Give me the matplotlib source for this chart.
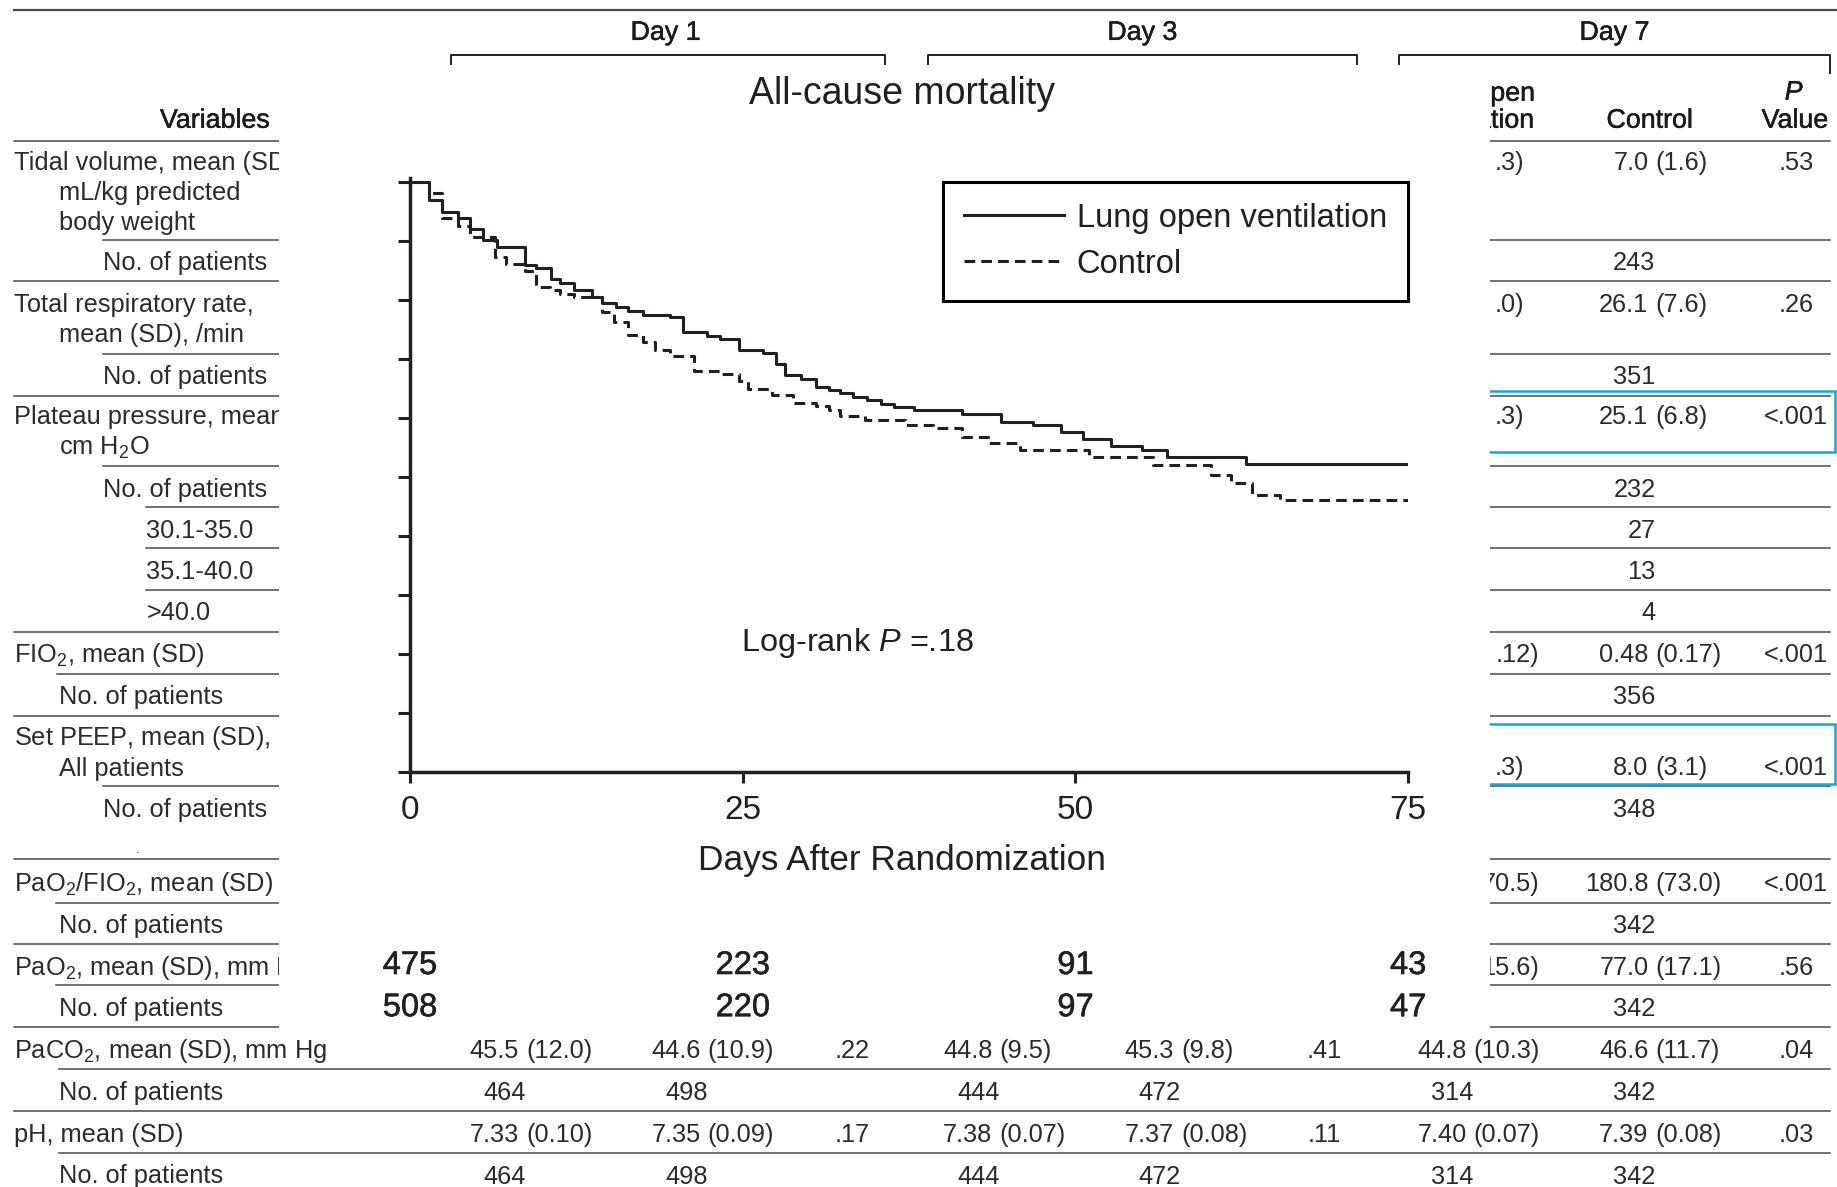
import matplotlib
matplotlib.use("Agg")
import matplotlib.pyplot as plt
import matplotlib.patheffects as pe
from matplotlib.patches import Rectangle

plt.rcParams['font.family'] = ['Liberation Sans', 'DejaVu Sans']
plt.rcParams['mathtext.fontset'] = 'custom'
plt.rcParams['mathtext.rm'] = 'Liberation Sans'
plt.rcParams['mathtext.it'] = 'Liberation Sans:italic'
plt.rcParams['mathtext.bf'] = 'Liberation Sans:bold'

# ---------------- data ----------------
day_headers = ["Day 1", "Day 3", "Day 7"]

labels = ["Tidal volume, mean (SD),", "mL/kg predicted", "body weight", "No. of patients",
          "Total respiratory rate,", "mean (SD), /min", "No. of patients",
          "Plateau pressure, mean (SD),", "cm H$_2$O", "No. of patients",
          "30.1-35.0", "35.1-40.0", ">40.0",
          "FIO$_2$, mean (SD)", "No. of patients",
          "Set PEEP, mean (SD), cm H$_2$O", "All patients", "No. of patients",
          "PaO$_2$/FIO$_2$, mean (SD)", "No. of patients",
          "PaO$_2$, mean (SD), mm Hg", "No. of patients",
          "PaCO$_2$, mean (SD), mm Hg", "No. of patients",
          "pH, mean (SD)", "No. of patients"]

# day 7 control column (rows above PaCO2)
ctrl7 = ["7.0 (1.6)", "243", "26.1 (7.6)", "351", "25.1 (6.8)", "232", "27", "13", "4",
         "0.48 (0.17)", "356", "8.0 (3.1)", "348", "180.8 (73.0)", "342", "77.0 (17.1)", "342"]
p7 = [".53", ".26", "<.001", "<.001", "<.001", "<.001", ".56"]
lov7_tail = [".3)", ".0)", ".3)", ".12)", ".3)", "70.5)", "15.6)"]

paco2_mean = ["45.5 (12.0)", "44.6 (10.9)", "44.8 (9.5)", "45.3 (9.8)", "44.8 (10.3)", "46.6 (11.7)"]
paco2_p = [".22", ".41", ".04"]
paco2_n = ["464", "498", "444", "472", "314", "342"]
ph_mean = ["7.33 (0.10)", "7.35 (0.09)", "7.38 (0.07)", "7.37 (0.08)", "7.40 (0.07)", "7.39 (0.08)"]
ph_p = [".17", ".11", ".03"]
ph_n = ["464", "498", "444", "472", "314", "342"]

# Kaplan-Meier curves (day of step, survival after step)
lov_t = [0, 1.4, 2.4, 3.6, 4.5, 5.5, 6.5, 8.6, 9.5, 10.6, 11.3, 12.3, 13.7, 14.4, 15.5, 16.4,
         17.5, 19.5, 20.5, 22.3, 23.3, 24.7, 26.5, 27.5, 28.2, 29.4, 30.5, 31.5, 32.3, 33.3,
         34.3, 35.4, 36.4, 37.9, 41.5, 44.4, 46.8, 48.9, 50.6, 52.7, 55.0, 56.9, 62.8, 75]
lov_s = [1.0, 0.969, 0.949, 0.938, 0.920, 0.901, 0.890, 0.859, 0.854, 0.835, 0.829, 0.817,
         0.804, 0.794, 0.788, 0.781, 0.775, 0.771, 0.745, 0.739, 0.733, 0.715, 0.710, 0.691,
         0.672, 0.666, 0.653, 0.647, 0.642, 0.636, 0.630, 0.623, 0.618, 0.613, 0.606, 0.593,
         0.588, 0.576, 0.565, 0.552, 0.546, 0.534, 0.522, 0.522]
ctl_t = [0, 1.4, 2.4, 3.6, 4.5, 6.4, 7.2, 8.6, 9.5, 10.5, 11.3, 12.3, 14.4, 15.3, 16.4, 17.5,
         18.4, 19.5, 21.3, 23.3, 24.7, 25.4, 27.2, 28.8, 30.5, 31.5, 32.3, 34.2, 37.2, 39.3,
         41.5, 43.4, 45.8, 51.0, 55.8, 60.2, 61.7, 63.3, 65.4, 75]
ctl_s = [1.0, 0.980, 0.938, 0.925, 0.907, 0.872, 0.861, 0.849, 0.822, 0.816, 0.810, 0.804,
         0.779, 0.762, 0.740, 0.729, 0.715, 0.704, 0.680, 0.674, 0.663, 0.649, 0.638, 0.626,
         0.620, 0.614, 0.603, 0.596, 0.588, 0.582, 0.568, 0.557, 0.545, 0.534, 0.520, 0.503,
         0.490, 0.470, 0.461, 0.461]
risk_days = [0, 25, 50, 75]
lov_risk = ["475", "223", "91", "43"]
ctl_risk = ["508", "220", "97", "47"]

# ---------------- layout (reference pixels, 1568 x 1013 grid) ----------------
label_y = [137, 163, 188, 222, 258, 284, 320, 354, 380, 416, 451, 486, 521, 557, 593,
           628, 654, 689, 752, 788, 824, 859, 895, 931, 967, 1002]
label_x = [12, 50, 50, 88, 12, 50, 88, 12, 50, 88, 125, 125, 125, 12, 50,
           12, 50, 88, 12, 50, 12, 50, 12, 50, 12, 50]
rules = [(120, 12), (205, 88), (240, 12), (302, 88), (338, 12), (398, 88), (433, 125),
         (467.5, 125), (503.6, 125), (539.7, 12), (575, 49), (611, 12), (671, 88),
         (733, 12), (770.5, 48), (806, 12), (841, 48), (876.6, 12), (912.5, 50),
         (948, 12), (984, 50)]
ctrl7_y = [137, 222, 258, 320, 354, 416, 451, 486, 521, 557, 593, 653, 689, 752, 788, 824, 859]
p7_y = [137, 258, 354, 557, 653, 752, 824]
tail_x = [1301, 1301, 1301, 1314, 1301, 1314, 1314]
col_x = [449, 604, 853, 1008, 1258, 1413]
p_x = [727, 1130, 1533]

TXT = '#2b2b2b'
HEAD = '#1a1a1a'
LINE = '#4a4a4a'
FS = 18.3
HFS = 19.3
heavy = [pe.withStroke(linewidth=0.35, foreground=HEAD)]

fig = plt.figure(figsize=(18.37, 11.87), dpi=100)
ax = fig.add_axes([0, 0, 1, 1])
ax.set_xlim(0, 1568)
ax.set_ylim(1013, 0)
ax.axis('off')


def put(x, y, s, ha='left', fs=FS, color=TXT, style='normal', effects=None):
    ax.text(x, y + 8, s, ha=ha, va='baseline', fontsize=fs, fontstyle=style,
            color=color, zorder=3, path_effects=effects)


def cell(x, y, s):
    if ' (' in s:
        a, b = s.split(' (')
        put(x - 6, y, a, ha='right')
        put(x, y, '(' + b)
    else:
        put(x, y, s, ha='right')


# top rule, day headers and brackets
ax.plot([12, 1568], [8.5, 8.5], color=LINE, lw=1.6, zorder=2)
for name, cx, (x0, x1) in zip(day_headers, [568, 975, 1378],
                              [(385, 755), (792, 1158), (1194, 1562)]):
    put(cx, 26, name, ha='center', fs=HFS, color=HEAD, effects=heavy)
    ax.plot([x0, x0, x1, x1], [55, 47, 47, 55 if x1 < 1500 else 62],
            color='#222222', lw=1.4, zorder=2)

# column headers
put(230, 101, "Variables", ha='right', fs=HFS, color=HEAD, effects=heavy)
put(1310, 78, "Lung Open", ha='right', fs=HFS, color=HEAD, effects=heavy)
put(1309, 101, "Ventilation", ha='right', fs=HFS, color=HEAD, effects=heavy)
put(1408, 101, "Control", ha='center', fs=HFS, color=HEAD, effects=heavy)
put(1531, 77, "P", ha='center', fs=HFS, color=HEAD, style='italic', effects=heavy)
put(1532, 101, "Value", ha='center', fs=HFS, color=HEAD, effects=heavy)

# row rules
for y, x0 in rules:
    ax.plot([x0, 1562], [y, y], color=LINE, lw=1.1, zorder=2)

# labels
for s, x, y in zip(labels, label_x, label_y):
    put(x, y, s)
ax.text(117, 728, ".", fontsize=9, color=TXT, ha='center', va='baseline', zorder=3)

# day 7 values
for s, y in zip(ctrl7, ctrl7_y):
    cell(col_x[5], y, s)
for s, y in zip(p7, p7_y):
    put(p_x[2], y, s, ha='center')
for s, x, y in zip(lov7_tail, tail_x, p7_y):
    put(x, y, s, ha='right')

# fully visible bottom rows
for means, ps, ns, y in [(paco2_mean, paco2_p, paco2_n, 895), (ph_mean, ph_p, ph_n, 967)]:
    for s, x in zip(means, col_x):
        cell(x, y, s)
    for s, x in zip(ps, p_x):
        put(x, y, s, ha='center')
    for s, x in zip(ns, col_x):
        cell(x, y + 35.5, s)

# highlighted rows
for y0, y1 in [(334, 385.5), (618, 669.4)]:
    ax.add_patch(Rectangle((1200, y0), 1566 - 1200, y1 - y0, fill=False,
                           edgecolor='#00aeef', lw=1.8, zorder=4))

# white panel carrying the survival plot
ax.add_patch(Rectangle((238, 60), 1272 - 238, 880 - 60, facecolor='white',
                       edgecolor='none', zorder=10))

# ---------------- Kaplan-Meier plot ----------------
KM = '#231f20'
km = fig.add_axes([350 / 1568, 1 - 659 / 1013, 852 / 1568, 507 / 1013])
km.set_facecolor('none')
km.step(lov_t, lov_s, where='post', color=KM, lw=2.2, label='Lung open ventilation')
km.step(ctl_t, ctl_s, where='post', color=KM, lw=2.2, linestyle=(0, (3.5, 2)), label='Control')
km.set_xlim(0, 75)
km.set_ylim(0, 1.006)
km.set_yticks([i / 10 for i in range(11)])
km.set_yticklabels([])
km.set_xticks(risk_days)
km.set_xticklabels([str(d) for d in risk_days], fontsize=24, color=KM)
km.tick_params(axis='y', direction='out', length=8.4, width=2.2, color=KM)
km.tick_params(axis='x', direction='out', length=7.6, width=2.2, color=KM, pad=9)
for side in ['top', 'right']:
    km.spines[side].set_visible(False)
for side in ['left', 'bottom']:
    km.spines[side].set_linewidth(2.5)
    km.spines[side].set_color(KM)
km.set_title("All-cause mortality", fontsize=27, color=KM, pad=53, x=0.493)
km.set_xlabel("Days After Randomization", fontsize=25.4, color=KM, labelpad=13, x=0.493)

leg = km.legend(loc='upper right', bbox_to_anchor=(1.0, 0.9941), borderaxespad=0,
                fontsize=23.5, handlelength=3.05, handletextpad=0.4, borderpad=0.65,
                labelspacing=0.45, fancybox=False, framealpha=1, edgecolor='black')
leg.get_frame().set_linewidth(2.2)
for t in leg.get_texts():
    t.set_color(KM)

km.text(33.6, 0.218, "Log-rank $P$ =.18", ha='center', va='center', fontsize=23.4, color=KM)

xt = km.get_xaxis_transform()
bold_km = [pe.withStroke(linewidth=0.4, foreground=KM)]
for d, a, b in zip(risk_days, lov_risk, ctl_risk):
    km.text(d, -0.3254, a, transform=xt, ha='center', va='center', fontsize=23.5,
            color=KM, clip_on=False, path_effects=bold_km)
    km.text(d, -0.3964, b, transform=xt, ha='center', va='center', fontsize=23.5,
            color=KM, clip_on=False, path_effects=bold_km)

fig.savefig("out.png", dpi=100)
